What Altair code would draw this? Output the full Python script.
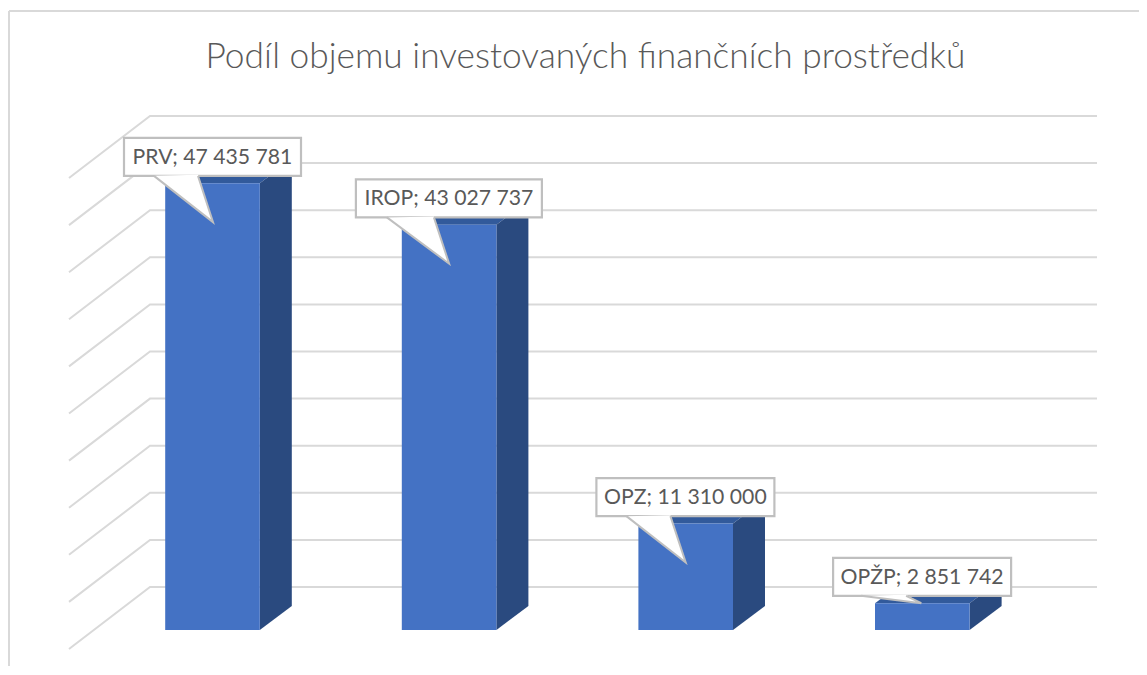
import altair as alt
import pandas as pd

TITLE = "Podíl objemu investovaných finančních prostředků"
categories = ["PRV", "IROP", "OPZ", "OPŽP"]
values = [47435781, 43027737, 11310000, 2851742]
grid_ticks = [0, 5e6, 10e6, 15e6, 20e6, 25e6, 30e6, 35e6, 40e6, 45e6, 50e6]

W, H = 1131, 658
# projection of the fake 3D view: pixels per category and per value unit
PX_CAT = 236.6
PX_VAL = 9.42e-6
CX0, BASE = 212.5, 630.0


def dx(p):
    return p / PX_CAT


def dv(p):
    return p / PX_VAL


xscale = alt.Scale(domain=[(8 - CX0) / PX_CAT, (8 + W - CX0) / PX_CAT], nice=False, zero=False)
yscale = alt.Scale(domain=[(BASE - 8 - H) / PX_VAL, (BASE - 8) / PX_VAL], nice=False, zero=False)
X = alt.X("x:Q", scale=xscale, axis=None)
Y = alt.Y("y:Q", scale=yscale, axis=None)

HALF = dx(47.3)
DEPTH_X, DEPTH_Y = dx(32), dv(24)

# grid walls
grid = []
for t in grid_ticks:
    for o, (px, shift) in enumerate([(69, -19), (150, 43), (1097, 43)]):
        grid.append({"id": t, "ord": o, "x": dx(px - CX0), "y": t + dv(shift)})

front, side, top, box, tail_fill, tail_line, labels = [], [], [], [], [], [], []
box_left = [-88.5, -93.2, -89.3, -89.2]
box_width = [177, 186, 178, 178]
tail_a = [30, 31, 30, 28]
tail_c = [74, 78, 74, 73]
tip_x = [0.5, 0.0, 0.0, -1.0]
tip_y = [39, 39, 39, 0]
for i, (c, v) in enumerate(zip(categories, values)):
    front.append({"x": i - HALF, "x2": i + HALF, "y": 0, "y2": v})
    l, r = i - HALF, i + HALF
    side += [
        {"id": c, "x": r, "y": v, "y2": 0},
        {"id": c, "x": r + DEPTH_X, "y": v + DEPTH_Y, "y2": DEPTH_Y},
    ]
    top += [
        {"id": c, "x": l, "y": v, "y2": v},
        {"id": c, "x": l + DEPTH_X, "y": v + DEPTH_Y, "y2": v},
        {"id": c, "x": r, "y": v + DEPTH_Y, "y2": v},
        {"id": c, "x": r + DEPTH_X, "y": v + DEPTH_Y, "y2": v + DEPTH_Y},
    ]
    bl, br = i + dx(box_left[i]), i + dx(box_left[i] + box_width[i])
    bt, bb = v + dv(45.3), v + dv(7.3)
    box.append({"x": bl, "x2": br, "y": bt, "y2": bb})
    labels.append({"x": (bl + br) / 2, "y": (bt + bb) / 2 - dv(0.7),
                   "t": f"{c}; {v:,}".replace(",", " ")})
    ax, cx = bl + dx(tail_a[i]), bl + dx(tail_c[i])
    tx, ty = i + dx(tip_x[i]), v - dv(tip_y[i])
    # lower edge of the pointer at the x of its right root
    low = bb + (ty - bb) * (cx - ax) / (tx - ax)
    tail_fill += [
        {"id": c, "x": ax, "y": bb, "y2": bb},
        {"id": c, "x": cx, "y": bb + dv(1), "y2": low},
        {"id": c, "x": tx, "y": ty, "y2": ty},
    ]
    tail_line += [
        {"id": c, "ord": 0, "x": ax, "y": bb},
        {"id": c, "ord": 1, "x": tx, "y": ty},
        {"id": c, "ord": 2, "x": cx, "y": bb},
    ]

GRID = "#d9d9d9"
BORDER = "#bfbfbf"

frame_top = alt.Chart(pd.DataFrame({"k": [0]})).mark_rule(color=GRID, strokeWidth=2).encode(
    x=alt.value(1), x2=alt.value(W), y=alt.value(3))
frame_left = alt.Chart(pd.DataFrame({"k": [0]})).mark_rule(color=GRID, strokeWidth=2).encode(
    x=alt.value(1), y=alt.value(3), y2=alt.value(H))

grid_l = alt.Chart(pd.DataFrame(grid)).mark_line(color=GRID, strokeWidth=2).encode(
    x=X, y=Y, detail="id:N", order="ord:Q")
front_l = alt.Chart(pd.DataFrame(front)).mark_rect(color="#4472c4").encode(
    x=X, x2="x2:Q", y=Y, y2="y2:Q")
side_l = alt.Chart(pd.DataFrame(side)).mark_area(color="#2a4a7f", line=False, opacity=1).encode(
    x=X, y=Y, y2="y2:Q", detail="id:N")
top_l = alt.Chart(pd.DataFrame(top)).mark_area(color="#325a9b", opacity=1).encode(
    x=X, y=Y, y2="y2:Q", detail="id:N")
box_l = alt.Chart(pd.DataFrame(box)).mark_rect(fill="white", stroke=BORDER, strokeWidth=2.2).encode(
    x=X, x2="x2:Q", y=Y, y2="y2:Q")
tail_f = alt.Chart(pd.DataFrame(tail_fill)).mark_area(color="white", opacity=1).encode(
    x=X, y=Y, y2="y2:Q", detail="id:N")
tail_s = alt.Chart(pd.DataFrame(tail_line)).mark_line(color=BORDER, strokeWidth=2).encode(
    x=X, y=Y, detail="id:N", order="ord:Q")
text_l = alt.Chart(pd.DataFrame(labels)).mark_text(
    font="Lato", fontSize=21.2, color="#595959", align="center", baseline="middle").encode(
    x=X, y=Y, text="t:N")
title_l = alt.Chart(pd.DataFrame({"t": [TITLE]})).mark_text(
    font="Lato", fontSize=35.3, fontWeight=300, color="#595959", align="center", baseline="alphabetic"
).encode(x=alt.value(577.5), y=alt.value(60), text="t:N")

chart = (
    alt.layer(frame_top, frame_left, title_l, grid_l, top_l, side_l, front_l, box_l, tail_f, tail_s, text_l)
    .properties(width=W, height=H, padding=0, autosize=alt.AutoSizeParams(type="none"), background="white")
    .configure_view(stroke=None)
)
chart.save("out.html", embed_options={"renderer": "svg", "actions": False})
